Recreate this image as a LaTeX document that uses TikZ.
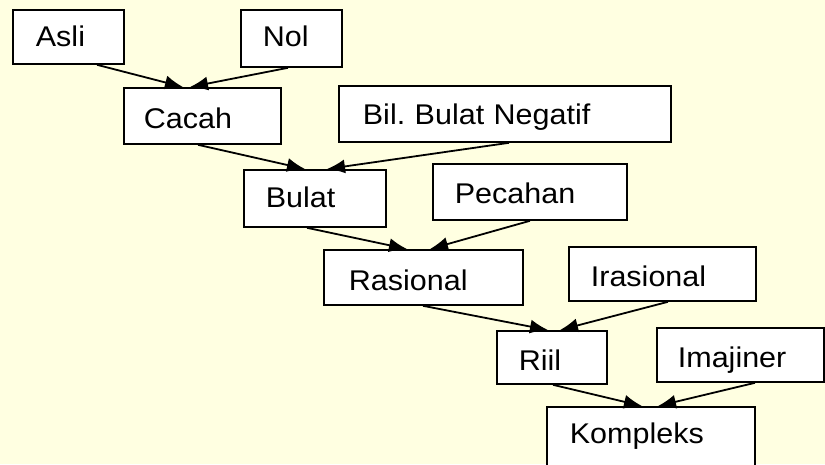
\documentclass[tikz,border=0pt]{standalone}
\usepackage{fontspec}
\setmainfont{Liberation Sans}[FakeStretch=1.07]
\usetikzlibrary{arrows.meta}
\definecolor{bgyellow}{RGB}{255,255,225}
\tikzset{
  numbox/.style n args={4}{draw=black, line width=1.8pt, fill=white, anchor=north west,
    inner ysep=0pt, inner xsep=#1, text width=#2, text height=#3, text depth=#4, align=left,
    font=\fontsize{28.5}{34}\selectfont\frenchspacing},
  link/.style={line width=1.8pt, -{Latex[length=18pt,width=14pt]}}
}
\begin{document}
\begin{tikzpicture}[x=1pt,y=-1pt]
\useasboundingbox (0,0) rectangle (825,464);
\clip (0,0) rectangle (825,464);
\fill[bgyellow] (0,0) rectangle (825,464);
\node[numbox={23pt}{65pt}{37pt}{17pt}] (asli) at (12,9) {Asli};
\node[numbox={22pt}{57pt}{37pt}{20pt}] (nol) at (240,9) {Nol};
\node[numbox={20pt}{117pt}{41pt}{15pt}] (cacah) at (123,87) {Cacah};
\node[numbox={24pt}{284pt}{39pt}{17pt}] (bil) at (338,85) {Bil. Bulat Negatif};
\node[numbox={22pt}{98pt}{38pt}{19pt}] (bulat) at (243,169) {Bulat};
\node[numbox={22pt}{150pt}{40pt}{16pt}] (pecahan) at (432,163) {Pecahan};
\node[numbox={25pt}{149pt}{41pt}{14pt}] (rasional) at (323,249) {Rasional};
\node[numbox={22pt}{143pt}{40pt}{14pt}] (irasional) at (568,246) {Irasional};
\node[numbox={22pt}{66pt}{40pt}{13pt}] (riil) at (496,330) {Riil};
\node[numbox={21pt}{125pt}{40pt}{14pt}] (imajiner) at (656,327) {Imajiner};
\node[numbox={23pt}{162pt}{37pt}{47pt}] (kompleks) at (546,406) {Kompleks};
\draw[link] ([xshift=85pt]asli.south west) -- ([xshift=60pt]cacah.north west);
\draw[link] ([xshift=48pt]nol.south west) -- ([xshift=67pt]cacah.north west);
\draw[link] ([xshift=75pt]cacah.south west) -- ([xshift=62pt]bulat.north west);
\draw[link] ([xshift=171pt]bil.south west) -- ([xshift=84pt]bulat.north west);
\draw[link] ([xshift=64pt]bulat.south west) -- ([xshift=84pt]rasional.north west);
\draw[link] ([xshift=98pt]pecahan.south west) -- ([xshift=107pt]rasional.north west);
\draw[link] ([xshift=100pt]rasional.south west) -- ([xshift=52pt]riil.north west);
\draw[link] ([xshift=100pt]irasional.south west) -- ([xshift=64pt]riil.north west);
\draw[link] ([xshift=57pt]riil.south west) -- ([xshift=96pt]kompleks.north west);
\draw[link] ([xshift=99pt]imajiner.south west) -- ([xshift=112pt]kompleks.north west);
\end{tikzpicture}
\end{document}
